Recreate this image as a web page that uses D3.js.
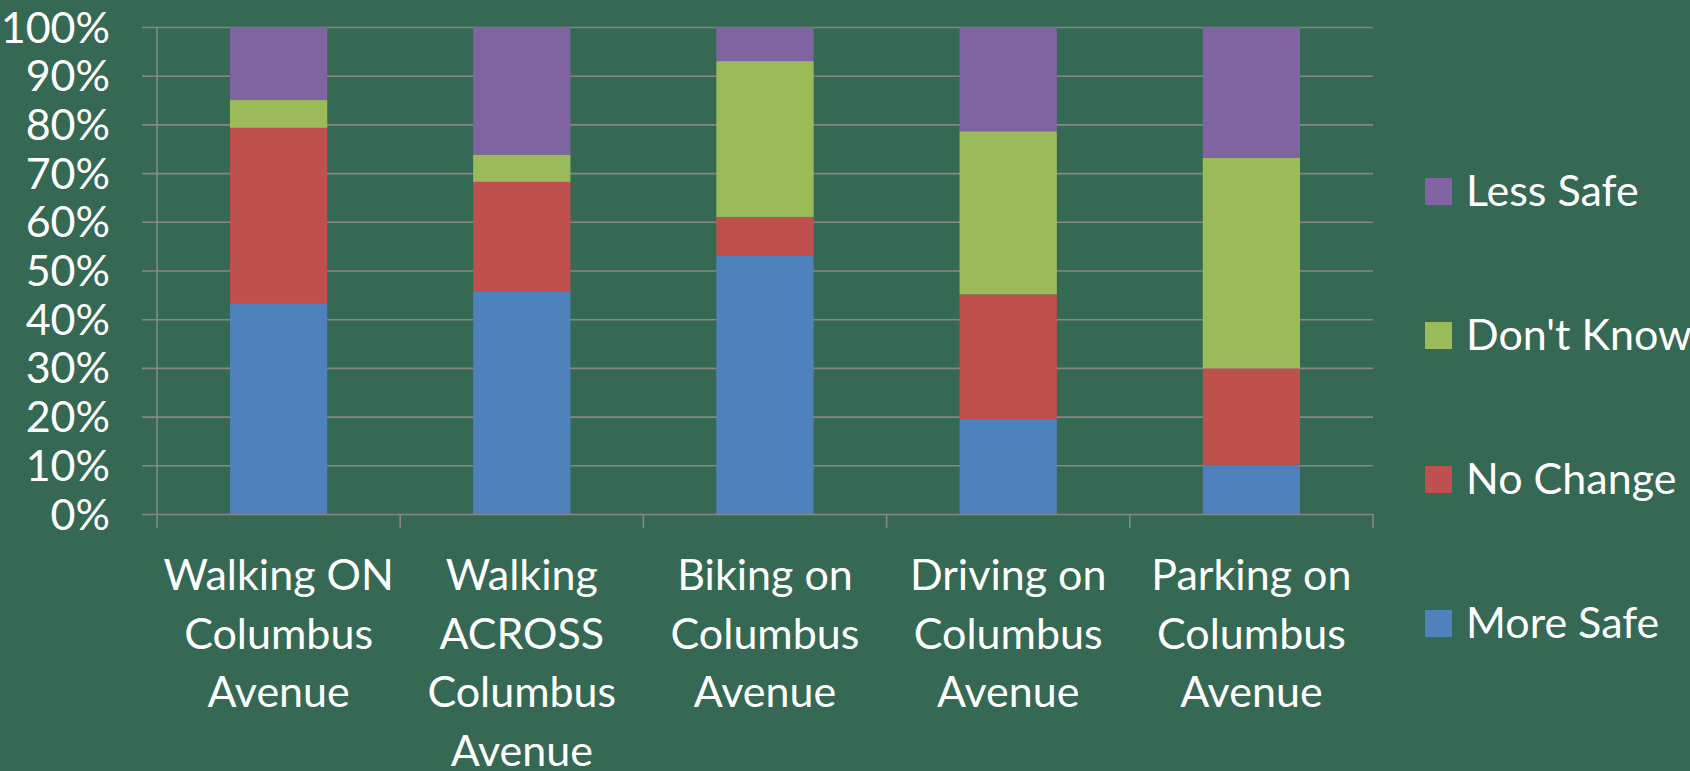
<!DOCTYPE html>
<html>
<head>
<meta charset="utf-8">
<script src="https://cdn.jsdelivr.net/npm/d3@7"></script>
<style>
  html, body { margin: 0; padding: 0; background: #356953; }
  svg { display: block; font-family: Lato, "Open Sans", sans-serif; }
</style>
</head>
<body>
<div id="chart"></div>
<script>
// categories (each label split into lines as in the original)
const categories = [
  ["Walking ON", "Columbus", "Avenue"],
  ["Walking", "ACROSS", "Columbus", "Avenue"],
  ["Biking on", "Columbus", "Avenue"],
  ["Driving on", "Columbus", "Avenue"],
  ["Parking on", "Columbus", "Avenue"]
];

// series, percent of respondents
const seriesNames = ["More Safe", "No Change", "Don't Know", "Less Safe"];
const moreSafe  = [43.3, 45.6, 53.0, 19.5, 10.1];
const noChange  = [36.0, 22.6,  8.0, 25.6, 19.8];
const dontKnow  = [ 5.7,  5.6, 32.0, 33.5, 43.2];
const lessSafe  = [15.0, 26.2,  7.0, 21.4, 26.9];
const seriesColors = ["#4f81bd", "#c0504d", "#9bbb59", "#8064a2"];

const yTicks = [0, 10, 20, 30, 40, 50, 60, 70, 80, 90, 100];

const width = 1690;
const height = 771;
const margin = { top: 27, right: 317, bottom: 257, left: 157 };
const fontSize = "43px";

const svg = d3.select("#chart")
  .append("svg")
  .attr("width", width)
  .attr("height", height);

const plotW = width - margin.left - margin.right;
const plotH = height - margin.top - margin.bottom;

const g = svg.append("g")
  .attr("transform", `translate(${margin.left},${margin.top})`);

const table = categories.map((c, i) => ({
  idx: i,
  "More Safe": moreSafe[i],
  "No Change": noChange[i],
  "Don't Know": dontKnow[i],
  "Less Safe": lessSafe[i]
}));

const x = d3.scaleBand()
  .domain(d3.range(categories.length))
  .range([0, plotW])
  .paddingInner(0.6)
  .paddingOuter(0.3);

const xEdge = d3.scaleLinear()
  .domain([0, categories.length])
  .range([0, plotW]);

const y = d3.scaleLinear().domain([0, 100]).range([plotH, 0]);

const gridColor = "#878787";

// gridlines + y labels
const yAxis = g.append("g")
  .call(d3.axisLeft(y).tickValues(yTicks).tickSize(-plotW).tickPadding(0)
    .tickFormat(d => d + "%"));
yAxis.select(".domain").remove();
yAxis.selectAll(".tick line")
  .attr("x1", -15)
  .attr("stroke", gridColor)
  .attr("stroke-width", 1.6);
yAxis.selectAll(".tick text")
  .attr("x", -47)
  .attr("dy", "0.35em")
  .attr("fill", "#fff")
  .style("font-size", fontSize)
  .style("font-family", "Lato, sans-serif");

// vertical axis line
g.append("line")
  .attr("x1", 0).attr("x2", 0)
  .attr("y1", 0).attr("y2", plotH + 14)
  .attr("stroke", gridColor)
  .attr("stroke-width", 1.6);

// category separators on the x axis
g.selectAll(".xtick")
  .data(d3.range(1, categories.length + 1))
  .enter()
  .append("line")
  .attr("x1", d => xEdge(d)).attr("x2", d => xEdge(d))
  .attr("y1", plotH).attr("y2", plotH + 14)
  .attr("stroke", gridColor)
  .attr("stroke-width", 1.6);

// stacked bars
const stack = d3.stack().keys(seriesNames);
const layers = stack(table);

g.selectAll(".layer")
  .data(layers)
  .enter()
  .append("g")
  .attr("fill", (d, i) => seriesColors[i])
  .selectAll("rect")
  .data(d => d)
  .enter()
  .append("rect")
  .attr("x", d => x(d.data.idx))
  .attr("width", x.bandwidth())
  .attr("y", d => y(d[1]))
  .attr("height", d => y(d[0]) - y(d[1]));

// category labels
const labels = g.selectAll(".xlabel")
  .data(categories)
  .enter()
  .append("text")
  .attr("text-anchor", "middle")
  .attr("fill", "#fff")
  .style("font-size", fontSize)
  .attr("transform", (d, i) => `translate(${x(i) + x.bandwidth() / 2},${plotH + 76})`);

labels.selectAll("tspan")
  .data(d => d)
  .enter()
  .append("tspan")
  .attr("x", 0)
  .attr("y", (d, i) => i * 58.5)
  .text(d => d);

// legend, top to bottom in reverse series order
const legendNames = seriesNames.slice().reverse();
const legendColors = seriesColors.slice().reverse();

const legend = svg.selectAll(".legend")
  .data(legendNames)
  .enter()
  .append("g")
  .attr("transform", (d, i) => `translate(1425,${191 + i * 144})`);

legend.append("rect")
  .attr("x", 0).attr("y", -13)
  .attr("width", 27).attr("height", 27)
  .attr("fill", (d, i) => legendColors[i]);

legend.append("text")
  .attr("x", 41)
  .attr("dy", "0.35em")
  .attr("fill", "#fff")
  .style("font-size", fontSize)
  .text(d => d);
</script>
</body>
</html>
